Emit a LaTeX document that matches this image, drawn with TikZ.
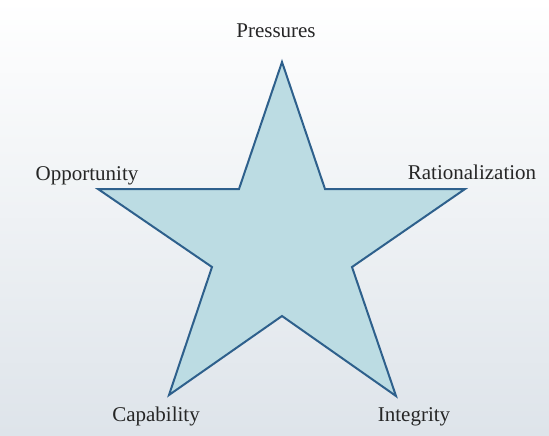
\documentclass[tikz,border=0pt]{standalone}
\usepackage{fontspec}
\setmainfont{Liberation Serif}
\definecolor{starfill}{RGB}{188,220,227}
\definecolor{starline}{RGB}{46,96,140}
\definecolor{bggray}{RGB}{222,228,234}
\begin{document}
\begin{tikzpicture}[
    x=0.5pt, y=-0.5pt,
    corner/.style={font=\fontsize{10.5}{12}\selectfont, text=black!85, anchor=base, inner sep=0pt},
    starshape/.style={draw=starline, fill=starfill, line width=1pt, line join=miter}
]
\useasboundingbox (0,0) rectangle (549,435);
\shade[top color=white, bottom color=bggray] (0,0) rectangle (549,435);

% the star
\draw[starshape] (282,62) -- (325,189) -- (465,189) -- (352,267) -- (396,396)
    -- (282,316) -- (169,395) -- (212,267) -- (98,189) -- (239,189) -- cycle;

% labels at the points
\node[corner] (pressures) at (276,37) {Pressures};
\node[corner] (opportunity) at (87,180) {Opportunity};
\node[corner] (rationalization) at (472,179) {Rationalization};
\node[corner] (capability) at (156,421) {Capability};
\node[corner] (integrity) at (414,421) {Integrity};
\end{tikzpicture}
\end{document}
